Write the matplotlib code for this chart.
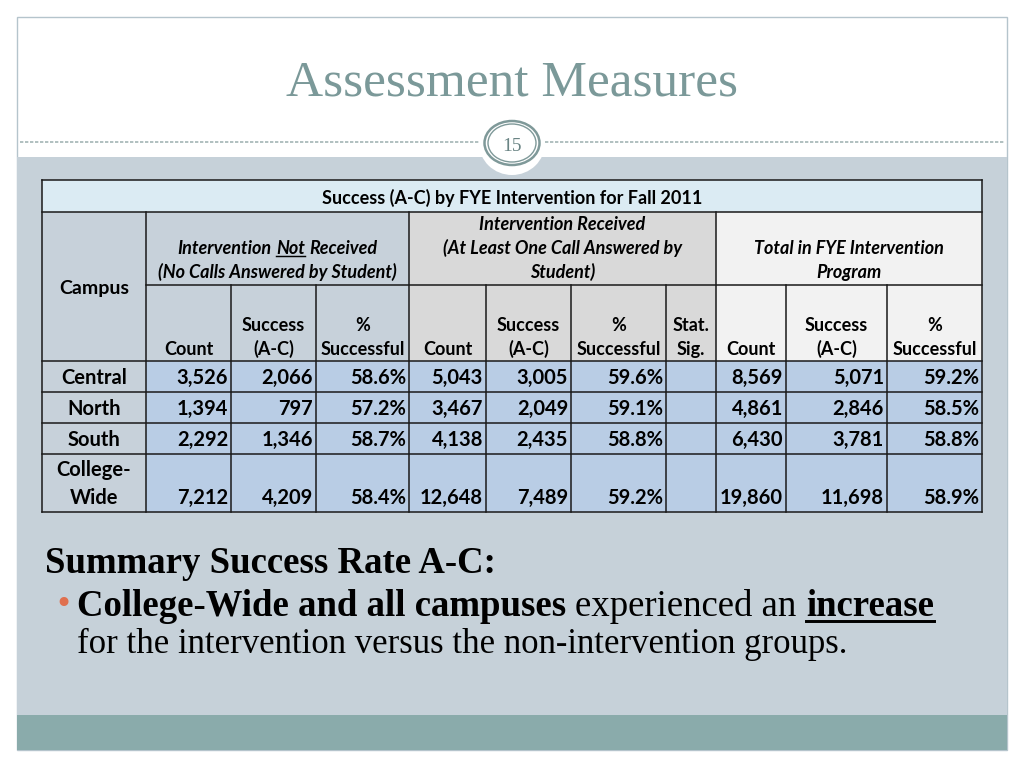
import numpy as np
import matplotlib
matplotlib.use('Agg')
from matplotlib import pyplot as plt
from matplotlib.patches import Rectangle, Ellipse

# ---- table data (Fall 2011) ----
campuses = ['Central', 'North', 'South', 'College-\nWide']
not_count = [3526, 1394, 2292, 7212]
not_success = [2066, 797, 1346, 4209]
not_pct = [58.6, 57.2, 58.7, 58.4]
rec_count = [5043, 3467, 4138, 12648]
rec_success = [3005, 2049, 2435, 7489]
rec_pct = [59.6, 59.1, 58.8, 59.2]
stat_sig = ['', '', '', '']
tot_count = [8569, 4861, 6430, 19860]
tot_success = [5071, 2846, 3781, 11698]
tot_pct = [59.2, 58.5, 58.8, 58.9]

table_title = 'Success (A-C) by FYE Intervention for Fall 2011'
sub_heads = [['Count'], ['Success', '(A-C)'], ['%', 'Successful'],
             ['Count'], ['Success', '(A-C)'], ['%', 'Successful'], ['Stat.', 'Sig.'],
             ['Count'], ['Success', '(A-C)'], ['%', 'Successful']]

# layout (pixels)
col_x = [42, 146, 231, 316, 409, 486, 571, 666, 716, 786, 887, 982]
row_y = [180, 212, 285, 361, 392, 423, 454, 512]

SANS = 'Lato'
SERIF = 'Liberation Serif'
TEAL_TXT = '#7b9999'

fig = plt.figure(figsize=(10.24, 7.68), dpi=100)
ax = fig.add_axes([0, 0, 1, 1])
ax.set_xlim(0, 1024)
ax.set_ylim(768, 0)
ax.axis('off')
fig.canvas.draw()
r = fig.canvas.get_renderer()


def text_w(s, **kw):
    t = ax.text(0, 0, s, **kw)
    w = t.get_window_extent(r).width
    t.remove()
    return w


def put_runs(x, y, runs, size, family, ha='left', color='black', gap=None):
    # runs: (text, weight, style, underline)
    texts, widths = [], []
    for s, w, st, u in runs:
        t = ax.text(0, y, s, fontsize=size, family=family, weight=w, style=st,
                    va='baseline', ha='left', color=color)
        texts.append(t)
        widths.append(t.get_window_extent(r).width)
    if gap is None:
        gap = text_w('x x', fontsize=size, family=family) - text_w('xx', fontsize=size, family=family)
    total = sum(widths) + gap * (len(runs) - 1)
    x0 = x - total / 2 if ha == 'center' else (x - total if ha == 'right' else x)
    for t, wd, run in zip(texts, widths, runs):
        t.set_x(x0)
        if run[3]:
            ax.plot([x0, x0 + wd], [y + size * 0.17, y + size * 0.17], color=color, lw=size * 0.08)
        x0 += wd + gap


# ---- slide background ----
ax.add_patch(Rectangle((17, 17), 990, 733, facecolor='white', edgecolor='#b5c4cc', lw=1))
ax.add_patch(Rectangle((17, 157), 990, 558, facecolor='#c6d1d9', edgecolor='none'))
ax.add_patch(Rectangle((17, 715), 990, 35, facecolor='#8aabab', edgecolor='none'))
ax.plot([20, 1004], [142, 142], color='#a3b5b5', lw=1.2, ls=(0, (2, 1)))
ax.add_patch(Ellipse((512, 143), 66, 64, facecolor='white', edgecolor='none', zorder=3))
ax.add_patch(Ellipse((512, 143), 55, 44, facecolor='white', edgecolor='#7f9999', lw=1.8, zorder=3))
ax.add_patch(Ellipse((512, 143), 48, 38, facecolor='none', edgecolor='#7f9999', lw=1.0, zorder=3))
ax.text(512, 151, '15', fontsize=14, family=SERIF, color='#6a8484', ha='center', va='baseline',
        zorder=4)

ax.text(512, 96, 'Assessment Measures', fontsize=37, family=SERIF, color=TEAL_TXT,
        ha='center', va='baseline')

# ---- table cells ----
def cell(c0, c1, r0, r1, color):
    ax.add_patch(Rectangle((col_x[c0], row_y[r0]), col_x[c1] - col_x[c0], row_y[r1] - row_y[r0],
                           facecolor=color, edgecolor='none'))

cell(0, 11, 0, 1, '#dbebf3')
cell(0, 1, 1, 3, '#c7d1da')
cell(1, 4, 1, 3, '#c7d1da')
cell(4, 8, 1, 3, '#d9d9d9')
cell(8, 11, 1, 3, '#f2f2f2')
cell(0, 1, 3, 7, '#c7d1da')
cell(1, 11, 3, 7, '#b9cde5')

line_kw = dict(color='#1a1a1a', lw=1.1)
for k in [0, 1, 3, 4, 5, 6, 7]:
    ax.plot([col_x[0], col_x[-1]], [row_y[k], row_y[k]], **line_kw)
ax.plot([col_x[1], col_x[-1]], [row_y[2], row_y[2]], **line_kw)
for k in [0, 1, 4, 8, 11]:
    ax.plot([col_x[k], col_x[k]], [row_y[0] if k in (0, 11) else row_y[1], row_y[-1]], **line_kw)
for k in [2, 3, 5, 6, 7, 9, 10]:
    ax.plot([col_x[k], col_x[k]], [row_y[2], row_y[-1]], **line_kw)

# ---- table header text ----
HS = 13
ax.text((col_x[0] + col_x[-1]) / 2, 204, table_title, fontsize=HS, family=SANS, weight='bold',
        ha='center', va='baseline')
ax.text((col_x[0] + col_x[1]) / 2, 294, 'Campus', fontsize=14, family=SANS, weight='bold',
        ha='center', va='baseline')

g1 = (col_x[1] + col_x[4]) / 2
put_runs(g1, 254, [('Intervention', 'bold', 'italic', False), ('Not', 'bold', 'italic', True),
                   ('Received', 'bold', 'italic', False)], HS, SANS, ha='center')
put_runs(g1, 278, [('(No Calls Answered by Student)', 'bold', 'italic', False)], HS, SANS, ha='center')

g2 = (col_x[4] + col_x[8]) / 2
for k, s in enumerate(['Intervention Received', '(At Least One Call Answered by', 'Student)']):
    ax.text(g2, 230 + 24 * k, s, fontsize=HS, family=SANS, weight='bold', style='italic',
            ha='center', va='baseline')

g3 = (col_x[8] + col_x[11]) / 2
for k, s in enumerate(['Total in FYE Intervention', 'Program']):
    ax.text(g3, 254 + 24 * k, s, fontsize=HS, family=SANS, weight='bold', style='italic',
            ha='center', va='baseline')

for c, lines in enumerate(sub_heads):
    xc = (col_x[c + 1] + col_x[c + 2]) / 2
    for k, s in enumerate(reversed(lines)):
        ax.text(xc, 355 - 24 * k, s, fontsize=HS, family=SANS, weight='bold',
                ha='center', va='baseline')

# ---- table body ----
DS = 14.5
columns = [
    [f'{v:,}' for v in not_count], [f'{v:,}' for v in not_success], [f'{v:.1f}%' for v in not_pct],
    [f'{v:,}' for v in rec_count], [f'{v:,}' for v in rec_success], [f'{v:.1f}%' for v in rec_pct],
    stat_sig,
    [f'{v:,}' for v in tot_count], [f'{v:,}' for v in tot_success], [f'{v:.1f}%' for v in tot_pct],
]
for i, name in enumerate(campuses):
    base = row_y[i + 4] - 8
    lines = name.split('\n')
    for k, s in enumerate(reversed(lines)):
        ax.text((col_x[0] + col_x[1]) / 2, base - 28 * k, s, fontsize=DS, family=SANS,
                weight='bold', ha='center', va='baseline')
    for c, vals in enumerate(columns):
        ax.text(col_x[c + 2] - 3, base, vals[i], fontsize=DS, family=SANS, weight='bold',
                ha='right', va='baseline')

# ---- summary text ----
ax.text(45, 573, 'Summary Success Rate A-C:', fontsize=26.5, family=SERIF, weight='bold',
        ha='left', va='baseline')
ax.text(54, 613, '\u2022', fontsize=22, family='DejaVu Sans', color='#e0704f',
        ha='left', va='baseline')
put_runs(77, 616, [('College-Wide and all campuses', 'bold', 'normal', False),
                   ('experienced an', 'normal', 'normal', False),
                   ('increase', 'bold', 'normal', True)], 26.5, SERIF)
ax.text(77, 653, 'for the intervention versus the non-intervention groups.', fontsize=25,
        family=SERIF, ha='left', va='baseline')

fig.savefig('out.png', dpi=100)
